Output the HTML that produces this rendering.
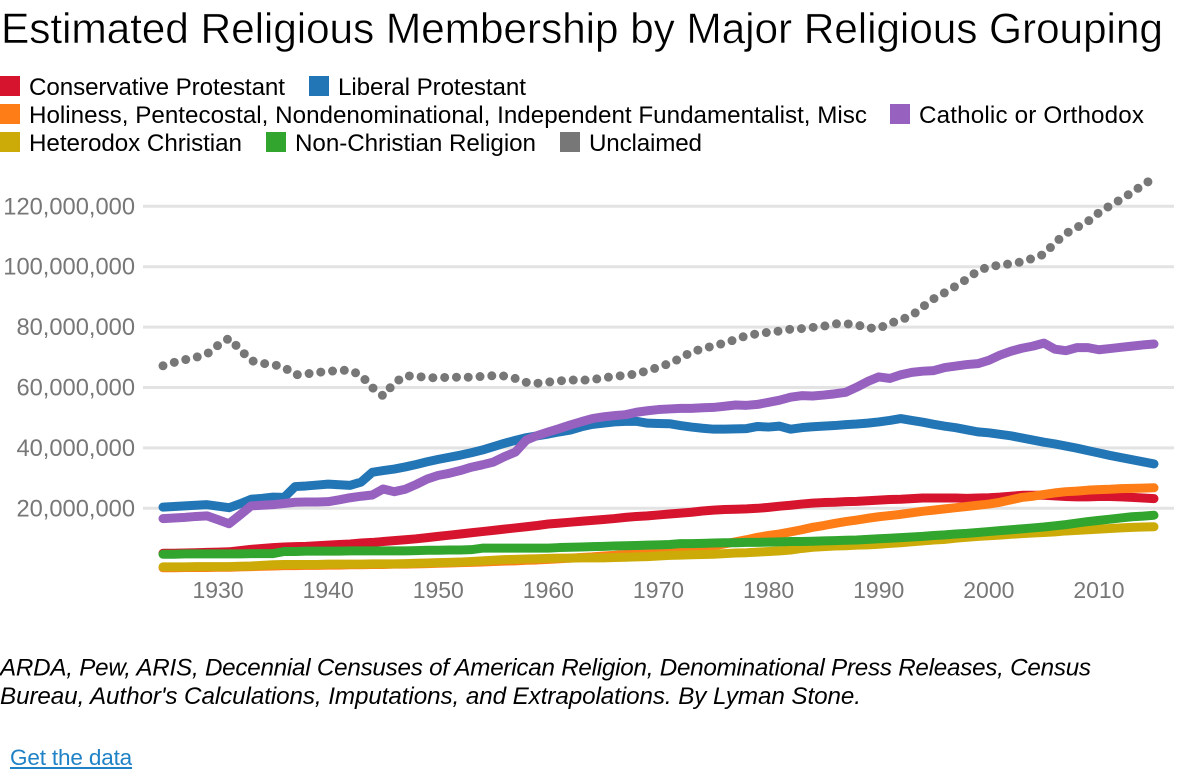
<!DOCTYPE html>
<html lang="en">
<head>
<meta charset="utf-8">
<title>Estimated Religious Membership by Major Religious Grouping</title>
<style>
html,body{margin:0;padding:0;background:#fff;width:1180px;height:780px;overflow:hidden}
svg{position:absolute;left:0;top:0;display:block}
text{font-family:"Liberation Sans",sans-serif}
#data-link{position:absolute;left:10px;top:745px;font:22.5px/26px "Liberation Sans",sans-serif;color:#1f82c6;text-decoration:underline;letter-spacing:-.15px}
</style>
</head>
<body>
<svg id="chart" width="1180" height="780" viewBox="0 0 1180 780">
  <text x="1" y="43" font-size="42.5" fill="#000" stroke="#fff" stroke-width=".5" textLength="1162" lengthAdjust="spacing">Estimated Religious Membership by Major Religious Grouping</text>

  <g font-size="24.2" fill="#000">
    <rect x="0" y="76" width="20" height="20" fill="#d6142e"/>
    <text x="29" y="95" textLength="256">Conservative Protestant</text>
    <rect x="309" y="76" width="20" height="20" fill="#2376b5"/>
    <text x="338" y="95" textLength="188">Liberal Protestant</text>
    <rect x="0" y="104" width="20" height="20" fill="#fe7d17"/>
    <text x="29" y="123" textLength="838">Holiness, Pentecostal, Nondenominational, Independent Fundamentalist, Misc</text>
    <rect x="890" y="104" width="20" height="20" fill="#9661bf"/>
    <text x="919" y="123" textLength="225">Catholic or Orthodox</text>
    <rect x="0" y="132" width="20" height="20" fill="#ccab08"/>
    <text x="29" y="151" textLength="213">Heterodox Christian</text>
    <rect x="266" y="132" width="20" height="20" fill="#31a52e"/>
    <text x="295" y="151" textLength="241">Non-Christian Religion</text>
    <rect x="560" y="132" width="20" height="20" fill="#777777"/>
    <text x="589" y="151" textLength="113">Unclaimed</text>
  </g>

  <g id="grid"></g>
  <g id="yaxis"></g>
  <g id="xaxis"></g>
  <g id="lines"></g>

  <g font-size="24.2" font-style="italic" fill="#000">
    <text x="0" y="675.5" textLength="1091">ARDA, Pew, ARIS, Decennial Censuses of American Religion, Denominational Press Releases, Census</text>
    <text x="0" y="704" textLength="861">Bureau, Author's Calculations, Imputations, and Extrapolations. By Lyman Stone.</text>
  </g>
</svg>
<a id="data-link" href="#">Get the data</a>

<script>
const years = [
1925,1926,1927,1928,1929,1930,1931,1932,1933,1934,
1935,1936,1937,1938,1939,1940,1941,1942,1943,1944,
1945,1946,1947,1948,1949,1950,1951,1952,1953,1954,
1955,1956,1957,1958,1959,1960,1961,1962,1963,1964,
1965,1966,1967,1968,1969,1970,1971,1972,1973,1974,
1975,1976,1977,1978,1979,1980,1981,1982,1983,1984,
1985,1986,1987,1988,1989,1990,1991,1992,1993,1994,
1995,1996,1997,1998,1999,2000,2001,2002,2003,2004,
2005,2006,2007,2008,2009,2010,2011,2012,2013,2014,
2015];

// Values in millions of members
const conservativeProtestant = [
5.1,5.1,5.2,5.3,5.4,5.5,5.6,6.0,6.4,6.7,
7.0,7.2,7.3,7.4,7.6,7.8,8.0,8.2,8.5,8.7,
9.0,9.3,9.6,9.9,10.3,10.7,11.1,11.5,11.9,12.3,
12.7,13.1,13.5,13.9,14.3,14.8,15.1,15.4,15.7,16.0,
16.3,16.6,17.0,17.3,17.5,17.8,18.1,18.4,18.7,19.1,
19.4,19.6,19.7,19.8,20.0,20.3,20.7,21.0,21.4,21.7,
21.9,22.0,22.2,22.3,22.5,22.7,22.9,23.0,23.2,23.4,
23.4,23.4,23.4,23.3,23.4,23.5,23.7,24.0,24.3,24.3,
24.3,24.1,23.9,23.8,23.8,23.9,23.9,23.8,23.6,23.4,
23.2];

const liberalProtestant = [
20.4,20.6,20.8,21.0,21.2,20.7,20.2,21.5,23.0,23.3,
23.7,23.6,27.2,27.4,27.7,28.0,27.8,27.6,28.7,31.9,
32.5,33.0,33.7,34.5,35.4,36.2,36.9,37.6,38.4,39.3,
40.4,41.5,42.5,43.4,44.0,44.6,45.3,45.9,47.0,47.8,
48.2,48.6,48.8,48.8,48.2,48.1,48.0,47.4,46.9,46.5,
46.2,46.2,46.3,46.4,47.1,46.9,47.2,46.2,46.7,47.0,
47.2,47.4,47.7,47.9,48.2,48.6,49.1,49.7,49.1,48.5,
47.8,47.2,46.7,46.0,45.3,45.0,44.5,44.0,43.3,42.6,
41.9,41.3,40.6,39.9,39.1,38.3,37.5,36.8,36.1,35.4,
34.7];

const holinessPentecostal = [
0.3,0.3,0.4,0.4,0.4,0.5,0.5,0.6,0.7,0.8,
0.9,1.0,1.0,1.1,1.1,1.2,1.2,1.3,1.3,1.4,
1.4,1.5,1.5,1.6,1.7,1.8,1.9,2.0,2.1,2.2,
2.4,2.5,2.6,2.8,2.9,3.1,3.3,3.5,3.7,3.9,
4.2,4.4,4.7,5.0,5.3,5.7,6.1,6.4,6.7,7.1,
7.6,8.2,8.9,9.6,10.4,11.0,11.5,12.2,12.9,13.7,
14.3,15.0,15.6,16.1,16.7,17.2,17.6,18.0,18.5,19.0,
19.4,19.8,20.2,20.6,21.0,21.4,22.0,22.8,23.6,24.0,
24.6,25.1,25.5,25.7,26.0,26.2,26.3,26.5,26.6,26.7,
26.8];

const catholicOrthodox = [
16.6,16.8,17.0,17.3,17.5,16.2,14.9,17.8,20.8,21.0,
21.2,21.6,22.0,22.1,22.1,22.2,22.8,23.5,24.0,24.4,
26.4,25.5,26.3,27.9,29.7,30.9,31.6,32.5,33.6,34.4,
35.3,37.1,38.6,42.6,44.1,45.3,46.4,47.6,48.7,49.7,
50.3,50.7,51.0,51.8,52.3,52.7,52.9,53.1,53.1,53.3,
53.4,53.8,54.2,54.1,54.4,55.1,55.8,56.8,57.3,57.2,
57.5,57.9,58.4,60.1,62.0,63.5,63.0,64.2,65.0,65.4,
65.6,66.6,67.1,67.6,67.9,69.0,70.7,72.0,73.0,73.7,
74.7,72.7,72.2,73.2,73.2,72.5,72.9,73.3,73.7,74.1,
74.4];

const heterodoxChristian = [
0.6,0.6,0.6,0.7,0.7,0.7,0.7,0.8,0.9,1.1,
1.3,1.4,1.4,1.4,1.4,1.5,1.5,1.5,1.5,1.6,
1.6,1.6,1.7,1.8,1.9,2.0,2.1,2.2,2.4,2.6,
2.8,3.0,3.1,3.2,3.3,3.4,3.5,3.5,3.6,3.6,
3.6,3.7,3.8,3.9,4.0,4.2,4.4,4.5,4.6,4.7,
4.8,5.0,5.2,5.3,5.5,5.7,5.9,6.2,6.7,7.1,
7.3,7.5,7.6,7.8,7.9,8.1,8.4,8.6,8.9,9.2,
9.5,9.7,10.1,10.4,10.7,10.9,11.1,11.4,11.6,11.8,
12.0,12.2,12.5,12.7,12.9,13.1,13.3,13.5,13.7,13.8,
13.9];

const nonChristianReligion = [
4.8,4.8,4.9,4.9,4.9,4.9,4.9,4.9,5.0,5.0,
5.0,5.7,5.7,5.8,5.8,5.8,5.8,5.9,5.9,5.9,
5.9,5.9,5.9,6.0,6.1,6.1,6.2,6.2,6.3,6.8,
6.8,6.8,6.8,6.8,6.8,6.8,7.0,7.1,7.2,7.3,
7.4,7.5,7.6,7.7,7.8,7.9,8.0,8.3,8.3,8.4,
8.5,8.6,8.6,8.7,8.7,8.8,8.9,9.0,9.0,9.1,
9.2,9.3,9.4,9.5,9.7,9.9,10.1,10.3,10.5,10.7,
11.0,11.2,11.5,11.7,12.0,12.3,12.6,12.9,13.2,13.5,
13.8,14.2,14.6,15.1,15.6,16.0,16.4,16.8,17.2,17.4,
17.7];

const unclaimed = [
67.2,68.3,69.2,70.0,71.1,74.0,76.3,72.6,68.9,68.0,
67.6,66.7,64.2,64.5,65.0,65.3,65.7,65.7,64.0,60.0,
57.2,61.5,63.9,63.7,63.3,63.2,63.4,63.4,63.4,63.7,
63.9,63.8,63.0,61.7,61.4,61.8,62.2,62.5,62.4,62.6,
63.2,63.7,64.0,64.5,65.6,66.7,68.0,69.7,71.8,72.8,
73.8,74.7,75.9,77.2,77.8,78.3,78.7,79.3,79.5,79.9,
80.3,81.1,81.1,80.8,79.7,79.6,81.2,82.4,83.8,86.7,
89.4,91.4,93.6,95.9,98.6,100.0,100.5,101.0,101.6,102.8,
104.1,107.9,111.0,113.0,115.0,117.9,120.2,122.3,124.6,127.1,
129.3];

const yTicks = [20, 40, 60, 80, 100, 120];
const yTickLabels = ["20,000,000", "40,000,000", "60,000,000", "80,000,000", "100,000,000", "120,000,000"];
const xTicks = [1930, 1940, 1950, 1960, 1970, 1980, 1990, 2000, 2010];

const SVG_NS = "http://www.w3.org/2000/svg";
function xScale(year) { return 163 + (year - 1925) * 11.011; }
function yScale(millions) { return 568.7 - millions * 3.02; }

function make(tag, attrs, parent) {
  const el = document.createElementNS(SVG_NS, tag);
  for (const k in attrs) el.setAttribute(k, attrs[k]);
  parent.appendChild(el);
  return el;
}

const gridGroup = document.getElementById("grid");
const yAxisGroup = document.getElementById("yaxis");
yTicks.forEach(function (t, i) {
  const line = make("line", { x1: 143, x2: 1174, y1: yScale(t), y2: yScale(t), stroke: "#e3e3e3", "stroke-width": 3 }, gridGroup);
  
  
  const label = make("text", { x: 135, y: yScale(t) + 8, "text-anchor": "end", "font-size": 23.7, fill: "#777" }, yAxisGroup);
  label.textContent = yTickLabels[i];
  
  
});

const xAxisGroup = document.getElementById("xaxis");
xTicks.forEach(function (t) {
  const label = make("text", { x: xScale(t), y: 598, "text-anchor": "middle", "font-size": 23, fill: "#777" }, xAxisGroup);
  label.textContent = String(t);
  
  
});

const lineGroup = document.getElementById("lines");
function drawSeries(values, color, name, dash) {
  const d = values.map(function (v, i) {
    return (i ? "L" : "M") + xScale(years[i]).toFixed(2) + " " + yScale(v).toFixed(2);
  }).join("");
  const path = make("path", { d: d, fill: "none", stroke: color, "stroke-width": 9, "stroke-linecap": "round", "stroke-linejoin": "round" }, lineGroup);
  if (dash) path.setAttribute("stroke-dasharray", dash);
  
  
}

drawSeries(conservativeProtestant, "#d6142e", "line-conservative-protestant");
drawSeries(liberalProtestant, "#2376b5", "line-liberal-protestant");
drawSeries(holinessPentecostal, "#fe7d17", "line-holiness-pentecostal");
drawSeries(catholicOrthodox, "#9661bf", "line-catholic-orthodox");
drawSeries(heterodoxChristian, "#ccab08", "line-heterodox-christian");
drawSeries(nonChristianReligion, "#31a52e", "line-non-christian-religion");
drawSeries(unclaimed, "#777777", "line-unclaimed", "0 11.8");
</script>
</body>
</html>
